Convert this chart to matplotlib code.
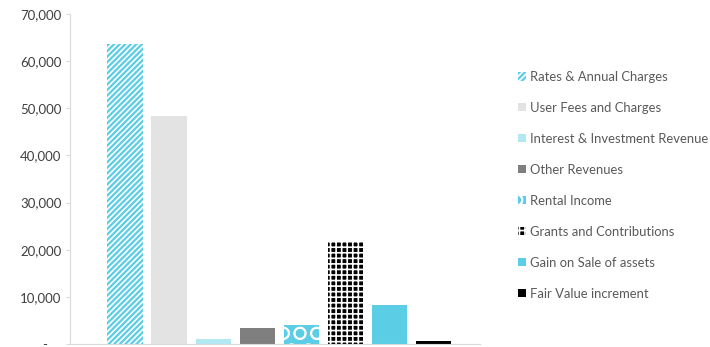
"""Revenue by source - bar chart with patterned fills"""

import matplotlib.pyplot as plt
from matplotlib.ticker import FuncFormatter

# Data
categories = ['Rates & Annual Charges', 'User Fees and Charges',
              'Interest & Investment Revenue', 'Other Revenues',
              'Rental Income', 'Grants and Contributions',
              'Gain on Sale of assets', 'Fair Value increment']
values = [63700, 48400, 1100, 3500, 4100, 21900, 8200, 700]

# Styles per bar
face_colors = ['#5BCDE5', '#E3E3E3', '#B3E8F2', '#7F7F7F',
               '#5BCDE5', '#000000', '#5BCDE5', '#000000']
hatches = ['//////', None, None, None, 'O', '+++', None, None]

plt.rcParams['font.family'] = ['Lato', 'DejaVu Sans']
plt.rcParams['hatch.linewidth'] = 1.2
text_color = '#595959'

fig = plt.figure(figsize=(7.1, 3.47), dpi=100)
ax = fig.add_axes([70 / 710, 1 - 344 / 347, 410 / 710, 330 / 347])

bars = []
for i, (cat, val) in enumerate(zip(categories, values)):
    b = ax.bar(i, val, width=0.8, color=face_colors[i], hatch=hatches[i],
               edgecolor='white' if hatches[i] else face_colors[i],
               linewidth=0, label=cat)
    bars.append(b)

ax.set_ylim(0, 70000)
ax.set_xlim(-1.25, 8.06)
ax.set_yticks(range(0, 70001, 10000))
ax.yaxis.set_major_formatter(
    FuncFormatter(lambda v, p: '-    ' if v == 0 else f'{v:,.0f}'))
ax.set_xticks([])

for side in ['top', 'right']:
    ax.spines[side].set_visible(False)
ax.spines['left'].set_color('#D9D9D9')
ax.spines['bottom'].set_color('#D9D9D9')
ax.tick_params(axis='y', colors='#D9D9D9', length=3, labelcolor='#404040',
               labelsize=9.5, pad=3)

fig.legend(handles=bars, labels=categories, loc='upper left',
           bbox_to_anchor=(518 / 710, 1 - 71 / 347), frameon=False,
           fontsize=9.4, labelcolor=text_color, labelspacing=1.45,
           handlelength=0.6, handleheight=0.6, handletextpad=0.35,
           borderaxespad=0, borderpad=0)

plt.savefig('out.png', dpi=100)
